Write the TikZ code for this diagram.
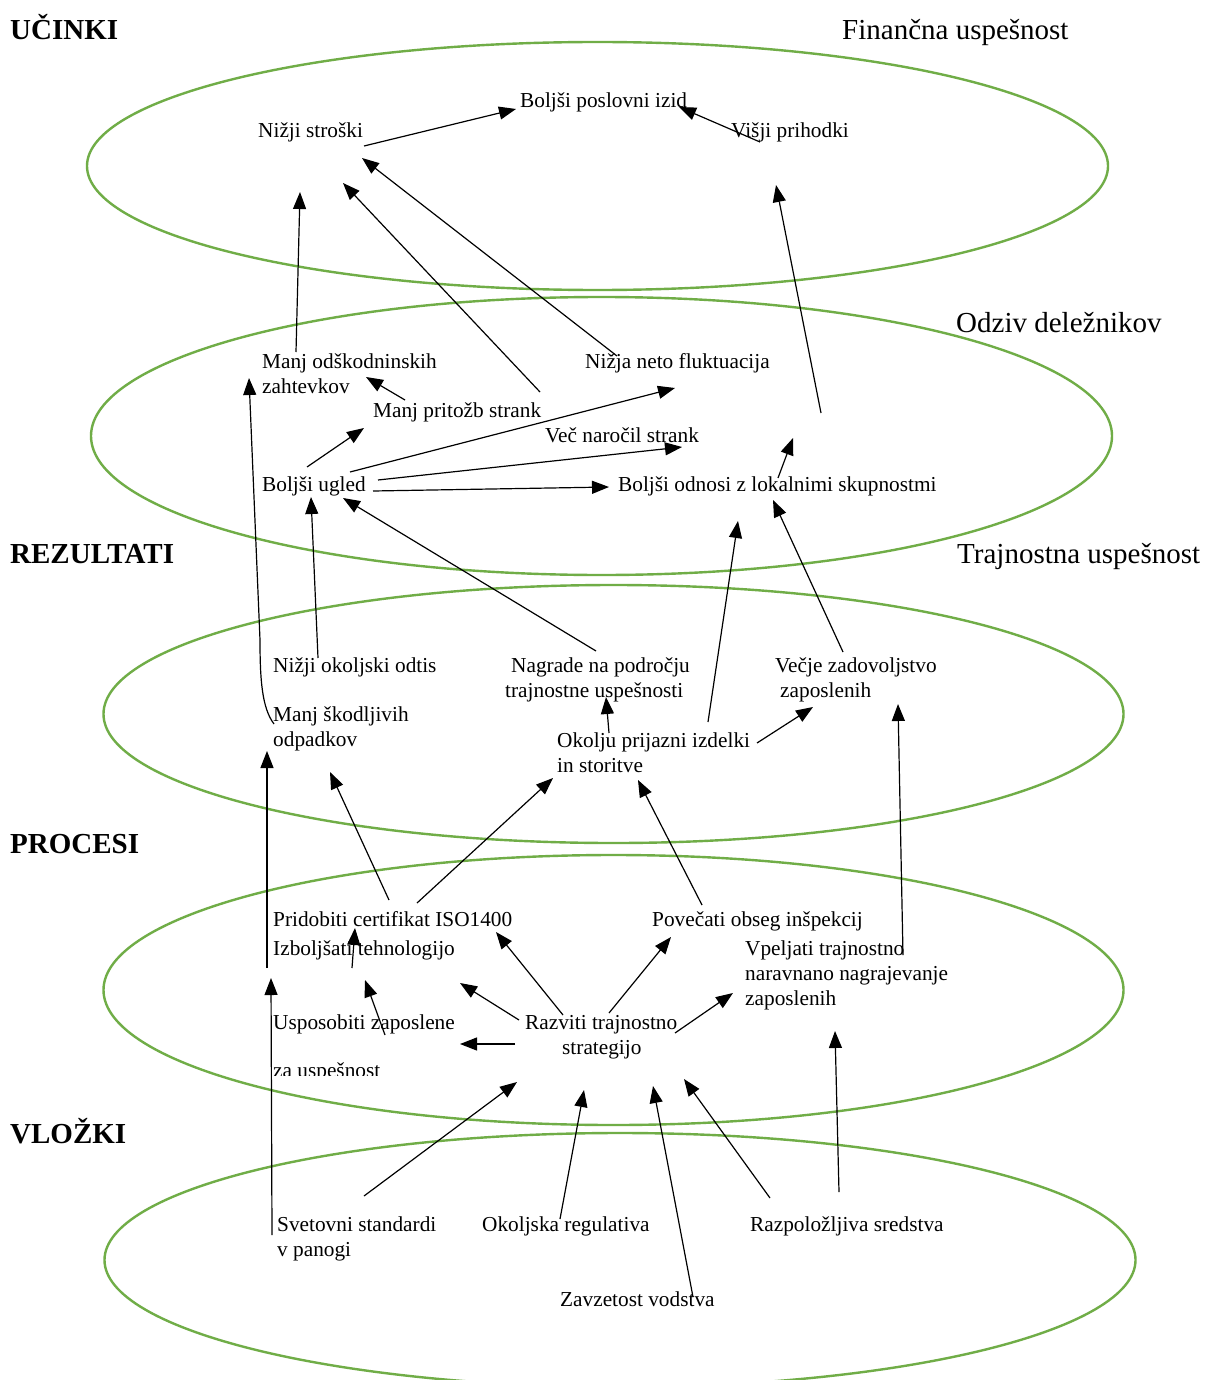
\documentclass[tikz,border=0pt]{standalone}
\usepackage{fontspec}
\setmainfont{Liberation Serif}
\usetikzlibrary{arrows.meta}
\definecolor{ringgreen}{RGB}{112,173,71}
\begin{document}
\begin{tikzpicture}[x=1pt,y=-1pt,
  ring/.style={draw=ringgreen,line width=2.4pt},
  lbl/.style={anchor=base west,inner sep=0pt,font=\fontsize{21.3}{25}\selectfont},
  ttl/.style={anchor=base west,inner sep=0pt,font=\fontsize{29}{32}\selectfont},
  hdg/.style={anchor=base west,inner sep=0pt,font=\fontsize{29}{32}\selectfont\bfseries},
  arr/.style={draw=black,line width=1.2pt,-{Triangle[length=17pt,width=13pt]}},
  wire/.style={draw=black,line width=1.2pt}]
\useasboundingbox (0,0) rectangle (1206,1380);
\fill[white] (0,0) rectangle (1206,1380);

% layers
\draw[ring] (597.5,166) ellipse [x radius=510.5pt, y radius=124pt];
\draw[ring] (601.5,436) ellipse [x radius=510.5pt, y radius=139pt];
\draw[ring] (613.5,714) ellipse [x radius=510pt, y radius=129pt];
\draw[ring] (613.5,990) ellipse [x radius=510pt, y radius=135pt];
\draw[ring] (620,1260) ellipse [x radius=515.5pt, y radius=127pt];

% headings
\node[hdg] (hdU) at (10,40) {UČINKI};
\node[hdg] (hdR) at (10,563) {REZULTATI};
\node[hdg] (hdP) at (10,853) {PROCESI};
\node[hdg] (hdV) at (10,1143) {VLOŽKI};
\node[ttl] (fin) at (842,40) {Finančna uspešnost};
\node[ttl] (odziv) at (956,332) {Odziv deležnikov};
\node[ttl] (traj) at (957,563) {Trajnostna uspešnost};

% effects
\node[lbl] (izid) at (520,108) {Boljši poslovni izid};
\node[lbl] (stroski) at (258,138) {Nižji stroški};
\node[lbl] (prihodki) at (731,138) {Višji prihodki};

% stakeholder response
\node[lbl] (odskA) at (262,368) {Manj odškodninskih};
\node[lbl] (odskB) at (262,393) {zahtevkov};
\node[lbl] (flukt) at (585,368) {Nižja neto fluktuacija};
\node[lbl] (pritozb) at (373,417) {Manj pritožb strank};
\node[lbl] (narocil) at (545,442) {Več naročil strank};
\node[lbl] (ugled) at (262,491) {Boljši ugled};
\node[lbl] (odnosi) at (618,491) {Boljši odnosi z lokalnimi skupnostmi};

% results
\node[lbl] (odtis) at (273,672) {Nižji okoljski odtis};
\node[lbl] (nagrA) at (511,672) {Nagrade na področju};
\node[lbl] (nagrB) at (505,697) {trajnostne uspešnosti};
\node[lbl] (zadA) at (775,672) {Večje zadovoljstvo};
\node[lbl] (zadB) at (780,697) {zaposlenih};
\node[lbl] (odpA) at (273,721) {Manj škodljivih};
\node[lbl] (odpB) at (273,746) {odpadkov};
\node[lbl] (izdA) at (557,747) {Okolju prijazni izdelki};
\node[lbl] (izdB) at (557,772) {in storitve};

% processes
\node[lbl] (iso) at (273,926) {Pridobiti certifikat ISO1400};
\node[lbl] (insp) at (652,926) {Povečati obseg inšpekcij};
\node[lbl] (teh) at (273,955) {Izboljšati tehnologijo};
\node[lbl] (vpA) at (745,955) {Vpeljati trajnostno};
\node[lbl] (vpB) at (745,980) {naravnano nagrajevanje};
\node[lbl] (vpC) at (745,1005) {zaposlenih};
\node[lbl] (uspA) at (273,1029) {Usposobiti zaposlene};
\node[lbl] (strA) at (525,1029) {Razviti trajnostno};
\node[lbl] (strB) at (562,1054) {strategijo};
\begin{scope}
  \clip (260,1040) rectangle (420,1075);
  \node[lbl] (uspB) at (273,1077) {za uspešnost};
\end{scope}

% inputs
\node[lbl] (svA) at (277,1231) {Svetovni standardi};
\node[lbl] (svB) at (277,1256) {v panogi};
\node[lbl] (reg) at (482,1231) {Okoljska regulativa};
\node[lbl] (sred) at (750,1231) {Razpoložljiva sredstva};
\node[lbl] (vod) at (560,1306) {Zavzetost vodstva};

% connector end points
\coordinate (stroskiOut) at (364,146);  \coordinate (izidInL) at (516,109);
\coordinate (prihodkiOut) at (760,142); \coordinate (izidInR) at (679,107);
\coordinate (odskOut) at (296,352);     \coordinate (stroskiIn1) at (300,192);
\coordinate (pritozbUp) at (540,392);   \coordinate (stroskiIn2) at (343,183);
\coordinate (fluktOut) at (617,356);    \coordinate (stroskiIn3) at (362,158);
\coordinate (rightUp) at (821,413);     \coordinate (prihodkiIn) at (776,185);
\coordinate (odnosiUp) at (778,478);    \coordinate (odnosiTip) at (793,438);
\coordinate (pritozbOut) at (405,400);  \coordinate (odskIn) at (366,377);
\coordinate (ugledOut1) at (307,467);   \coordinate (pritozbIn) at (364,428);
\coordinate (ugledOut2) at (350,472);   \coordinate (fluktIn) at (675,388);
\coordinate (ugledOut3) at (378,480);   \coordinate (narocilIn) at (682,447);
\coordinate (ugledOut4) at (373,491);   \coordinate (odnosiIn1) at (609,487);
\coordinate (odpCurve) at (274,724);    \coordinate (odskInL) at (249,378);
\coordinate (odtisOut) at (318,658);    \coordinate (ugledIn1) at (311,497);
\coordinate (nagrOut) at (596,651);     \coordinate (ugledIn2) at (343,498);
\coordinate (izdUp) at (708,722);       \coordinate (odnosiIn2) at (738,521);
\coordinate (zadOut) at (843,652);      \coordinate (odnosiIn3) at (773,500);
\coordinate (izdOut1) at (609,733);     \coordinate (nagrIn) at (606,697);
\coordinate (izdOut2) at (757,743);     \coordinate (zadIn1) at (813,707);
\coordinate (vpUp) at (903,955);        \coordinate (zadIn2) at (898,704);
\coordinate (leftUp) at (267,968);      \coordinate (odpIn1) at (267,751);
\coordinate (isoOut1) at (389,900);     \coordinate (odpIn2) at (330,772);
\coordinate (isoOut2) at (417,903);     \coordinate (izdIn1) at (553,778);
\coordinate (inspOut) at (702,905);     \coordinate (izdIn2) at (638,780);
\coordinate (tehOut) at (352,968);      \coordinate (isoIn1) at (355,928);
\coordinate (uspOut) at (385,1035);     \coordinate (tehIn) at (365,980);
\coordinate (strOut1) at (563,1015);    \coordinate (isoIn2) at (496,932);
\coordinate (strOut2) at (519,1020);    \coordinate (tehIn2) at (460,983);
\coordinate (strOut3) at (515,1044);    \coordinate (uspIn) at (460,1044);
\coordinate (strOut4) at (609,1013);    \coordinate (inspIn) at (671,937);
\coordinate (strOut5) at (675,1033);    \coordinate (vpIn) at (733,993);
\coordinate (svUp) at (272,1235);       \coordinate (leftIn) at (271,978);
\coordinate (svOut) at (364,1196);      \coordinate (strIn1) at (517,1082);
\coordinate (regOut) at (560,1219);     \coordinate (strIn2) at (584,1090);
\coordinate (vodOut) at (693,1297);     \coordinate (strIn3) at (653,1086);
\coordinate (sredOut1) at (770,1198);   \coordinate (strIn4) at (684,1079);
\coordinate (sredOut2) at (839,1192);   \coordinate (vpIn2) at (835,1031);

% effects layer
\draw[arr] (stroskiOut) -- (izidInL);
\draw[arr] (prihodkiOut) -- (izidInR);
\draw[arr] (odskOut) -- (stroskiIn1);
\draw[arr] (pritozbUp) -- (stroskiIn2);
\draw[arr] (fluktOut) -- (stroskiIn3);
\draw[arr] (rightUp) -- (prihodkiIn);
\draw[arr] (odnosiUp) -- (odnosiTip);

% stakeholder layer
\draw[arr] (pritozbOut) -- (odskIn);
\draw[arr] (ugledOut1) -- (pritozbIn);
\draw[arr] (ugledOut2) -- (fluktIn);
\draw[arr] (ugledOut3) -- (narocilIn);
\draw[arr] (ugledOut4) -- (odnosiIn1);
\draw[arr] (odpCurve) .. controls (262,708) and (260,680) .. (260,640) -- (odskInL);
\draw[arr] (odtisOut) -- (ugledIn1);
\draw[arr] (nagrOut) -- (ugledIn2);
\draw[arr] (izdUp) -- (odnosiIn2);
\draw[arr] (zadOut) -- (odnosiIn3);

% results layer
\draw[arr] (izdOut1) -- (nagrIn);
\draw[arr] (izdOut2) -- (zadIn1);
\draw[arr] (vpUp) -- (zadIn2);
\draw[arr] (leftUp) -- (odpIn1);
\draw[arr] (isoOut1) -- (odpIn2);
\draw[arr] (isoOut2) -- (izdIn1);
\draw[arr] (inspOut) -- (izdIn2);

% processes layer
\draw[arr] (tehOut) -- (isoIn1);
\draw[arr] (uspOut) -- (tehIn);
\draw[arr] (strOut1) -- (isoIn2);
\draw[arr] (strOut2) -- (tehIn2);
\draw[arr] (strOut3) -- (uspIn);
\draw[arr] (strOut4) -- (inspIn);
\draw[arr] (strOut5) -- (vpIn);

% inputs layer
\draw[arr] (svUp) -- (leftIn);
\draw[arr] (svOut) -- (strIn1);
\draw[arr] (regOut) -- (strIn2);
\draw[arr] (vodOut) -- (strIn3);
\draw[arr] (sredOut1) -- (strIn4);
\draw[arr] (sredOut2) -- (vpIn2);
\end{tikzpicture}
\end{document}
